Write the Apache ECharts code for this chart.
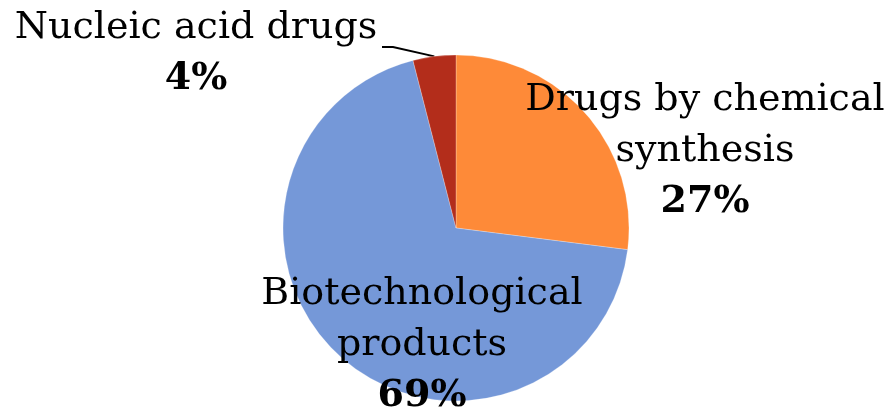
<!DOCTYPE html>
<html>
<head>
<meta charset="utf-8">
<script src="https://cdn.jsdelivr.net/npm/echarts@6/dist/echarts.min.js"></script>
<style>
  html, body { margin: 0; padding: 0; background: #fff; }
  #chart { width: 891px; height: 409px; }
</style>
</head>
<body>
<div id="chart"></div>
<script>
// Share of drug categories
const categories = ['Drugs by chemical\nsynthesis', 'Biotechnological\nproducts', 'Nucleic acid drugs'];
const shares = [27, 69, 4];
const colors = ['#fe8a38', '#7598d8', '#b32d1b'];

// Label anchor points (centre of each label block) in pixels
const labelAnchors = [
  { x: 705, y: 151 },
  { x: 422, y: 345 },
  { x: 196, y: 54 }
];

const FONT = '"DejaVu Serif", serif';

const chart = echarts.init(document.getElementById('chart'), null, { renderer: 'canvas' });

chart.setOption({
  animation: false,
  series: [{
    type: 'pie',
    center: [456, 228],
    radius: [0, 173],
    startAngle: 90,
    clockwise: true,
    data: categories.map((name, i) => ({
      name: name,
      value: shares[i],
      itemStyle: { color: colors[i] },
      labelLine: { show: i === 2 }
    })),
    itemStyle: { borderColor: 'rgba(255,255,255,0.5)', borderWidth: 0.5 },
    label: {
      show: true,
      position: 'outside',
      overflow: 'none',
      formatter: p => '{n|' + p.name.split('\n').join('}\n{n|') + '}\n{p|' + p.value + '%}',
      align: 'center',
      rich: {
        n: { fontFamily: FONT, fontSize: 38, lineHeight: 51, color: '#000', align: 'center' },
        p: { fontFamily: FONT, fontSize: 38, lineHeight: 51, color: '#000', fontWeight: 'bold', align: 'center' }
      }
    },
    labelLine: {
      show: true,
      length: 10,
      length2: 10,
      smooth: false,
      lineStyle: { color: '#000', width: 2 }
    },
    labelLayout: function (params) {
      const a = labelAnchors[params.dataIndex];
      const out = { x: a.x, y: a.y, align: 'center', verticalAlign: 'middle' };
      if (params.dataIndex === 2 && params.labelLinePoints) {
        // leader from the slice edge, bending into the end of the first text line
        const start = params.labelLinePoints[0];
        out.labelLinePoints = [start, [a.x + 197, a.y - 7], [a.x + 186, a.y - 7]];
      }
      return out;
    }
  }]
});
</script>
</body>
</html>
